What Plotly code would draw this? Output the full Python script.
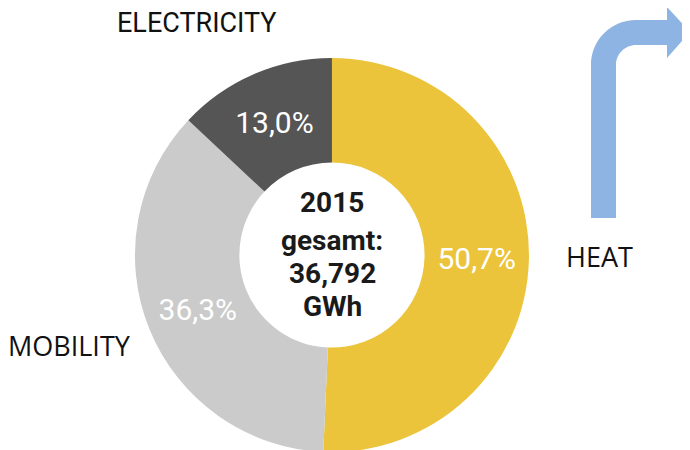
import plotly.graph_objects as go

categories = ["HEAT", "MOBILITY", "ELECTRICITY"]
shares = [50.7, 36.3, 13.0]
colors = ["#EBC43B", "#CBCBCB", "#555555"]
center_lines = ["2015", "gesamt:", "36,792", "GWh"]

# page body has an 8px margin; axes below use page pixel coordinates
OFF = 8

fig = go.Figure()

fig.add_trace(go.Pie(
    labels=categories,
    values=shares,
    sort=False,
    direction="clockwise",
    rotation=0,
    hole=0.47,
    marker=dict(colors=colors, line=dict(width=0)),
    texttemplate="%{value:.1f}%",
    textposition="inside",
    insidetextorientation="horizontal",
    textfont=dict(family="Roboto", size=30, color="white"),
    showlegend=False,
    hoverinfo="label+value",
    domain=dict(x=[0.0, 0.939], y=[0.0133, 0.8889]),
))

fig.update_xaxes(range=[OFF, 690 + OFF], visible=False, fixedrange=True)
fig.update_yaxes(range=[450 + OFF, OFF], visible=False, fixedrange=True)

# center text
center_y = [202, 240, 273, 306]
for i, t in enumerate(center_lines):
    fig.add_annotation(x=332, y=center_y[i], xref="x", yref="y", text="<b>" + t + "</b>",
                       showarrow=False,
                       font=dict(family="Roboto", size=28, color="#1a1a1a"))

# category labels
label_pos = {"ELECTRICITY": (197, 23, "Roboto", 27),
             "MOBILITY": (69, 345, "Open Sans", 27),
             "HEAT": (599, 256, "Open Sans", 27)}
for c in categories:
    x, y, fam, sz = label_pos[c]
    fig.add_annotation(x=x, y=y, xref="x", yref="y", text=c, showarrow=False,
                       font=dict(family=fam, size=sz, color="#111111"))

# bent arrow
fig.add_shape(type="path", xref="x", yref="y",
              path="M 591 218 L 591 65 C 591 40 611 20 636 20 L 667 20 L 667 7 L 690 32 "
                   "L 667 58 L 667 45 L 636 45 C 625 45 616 54 616 65 L 616 218 Z",
              fillcolor="#8DB4E2", line=dict(width=0))

fig.update_layout(
    width=690, height=450,
    margin=dict(l=0, r=0, t=0, b=0),
    paper_bgcolor="white", plot_bgcolor="white",
    separators=",.",
)

fig.write_html("out.html")
